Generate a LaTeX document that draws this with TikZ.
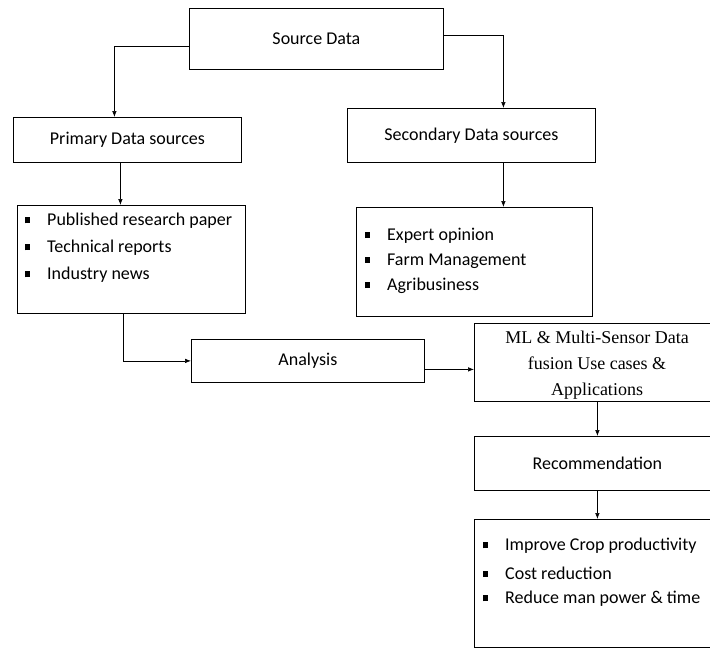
\documentclass[tikz,border=0pt]{standalone}
\usepackage{fontspec}
\setmainfont{Carlito}
\newfontfamily\timesf{Liberation Serif}
\usetikzlibrary{arrows.meta}
\newcommand{\bul}{\makebox[22pt][l]{\raisebox{2.5pt}{\rule{5pt}{6pt}}}}
\begin{document}
\begin{tikzpicture}[x=1pt,y=-1pt,
  box/.style={draw, line width=0.8pt, inner sep=0pt, font=\fontsize{18}{21}\selectfont},
  conn/.style={line width=0.6pt, -{Latex[length=6pt,width=4.5pt]}},
  item/.style={inner sep=0pt, anchor=west, font=\fontsize{18}{21}\selectfont}]
\useasboundingbox (0,0) rectangle (710,648);
\clip (0,0) rectangle (710,648);
% boxes
\node[box, minimum width=254pt, minimum height=61pt, anchor=north west] (src) at (189,8) {Source Data};
\node[box, minimum width=228pt, minimum height=45pt, anchor=north west] (prim) at (13,117) {Primary Data sources};
\node[box, minimum width=248pt, minimum height=54pt, anchor=north west] (sec) at (347,108) {Secondary Data sources};
\node[box, minimum width=228pt, minimum height=108pt, anchor=north west] (primb) at (17,205) {};
\node[box, minimum width=236pt, minimum height=109pt, anchor=north west] (secb) at (356,207) {};
\node[box, minimum width=233pt, minimum height=43pt, anchor=north west] (ana) at (191,339) {Analysis};
\node[box, minimum width=246pt, minimum height=78pt, anchor=north west] (ml) at (474,323) {};
\node[box, minimum width=246pt, minimum height=54pt, anchor=north west] (rec) at (474,436) {Recommendation};
\node[box, minimum width=246pt, minimum height=128pt, anchor=north west] (fin) at (474,519) {};
% items
\node[item] (p1) at (25,221) {\bul Published research paper};
\node[item] (p2) at (25,248) {\bul Technical reports};
\node[item] (p3) at (25,275) {\bul Industry news};
\node[item] (s1) at (365,236) {\bul Expert opinion};
\node[item] (s2) at (365,261) {\bul Farm Management};
\node[item] (s3) at (365,286) {\bul Agribusiness};
\node[item] (f1) at (483,546) {\bul Improve Crop productivity};
\node[item] (f2) at (483,573) {\bul Cost reduction};
\node[item] (f3) at (483,599) {\bul Reduce man power \& time};
\node[inner sep=0pt, font=\timesf\fontsize{18}{26}\selectfont, align=center] (mlt) at (597,365) {ML \& Multi-Sensor Data\\fusion Use cases \&\\Applications};
% connectors
\draw[conn] ([yshift=-7.5pt]src.west) -| ([xshift=-13pt]prim.north);
\draw[conn] ([yshift=3.5pt]src.east) -| ([xshift=32pt]sec.north);
\draw[conn] ([xshift=32pt]sec.south) -- ([xshift=32pt]sec.south |- secb.north);
\draw[conn] ([xshift=-7pt]prim.south) -- ([xshift=-7pt]prim.south |- primb.north);
\draw[conn] ([xshift=-8pt]primb.south) |- (ana.west);
\draw[conn] ([yshift=-8.5pt]ana.east) -- ([yshift=-8.5pt]ana.east -| ml.west);
\draw[conn] (ml.south) -- (rec.north);
\draw[conn] (rec.south) -- (fin.north);
\end{tikzpicture}
\end{document}
